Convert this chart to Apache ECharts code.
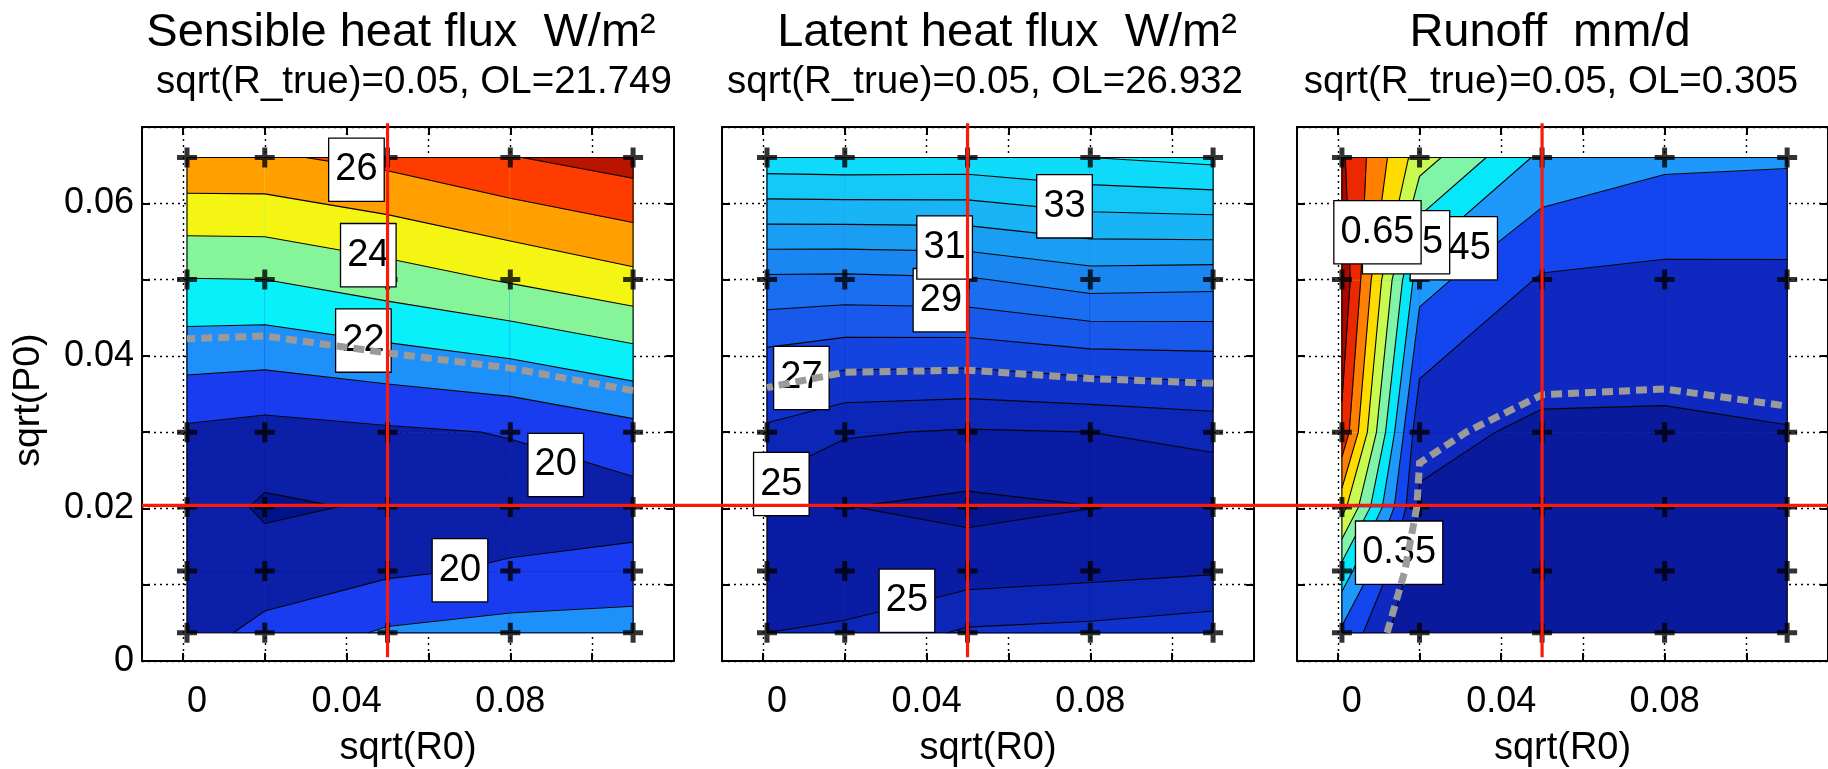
<!DOCTYPE html>
<html><head><meta charset="utf-8">
<script src="https://cdn.jsdelivr.net/npm/echarts@6/dist/echarts.min.js"></script>
<style>html,body{margin:0;padding:0;background:#fff}#c{width:1828px;height:769px}</style>
</head><body><div id="c"></div>
<script>
// ================= DATA =================
const xGrid = [0.001, 0.02, 0.05, 0.08, 0.11];              // sqrt(R0) sample points
const yGrid = [0.0037, 0.0118, 0.0202, 0.03, 0.05, 0.066];  // sqrt(P0) sample points
const xTickValues = [0, 0.02, 0.04, 0.06, 0.08, 0.10];
const xLabelValues = [0, 0.04, 0.08];
const yLabelValues = [0, 0.02, 0.04, 0.06];
const titles = ['Sensible heat flux  W/m\u00b2', 'Latent heat flux  W/m\u00b2', 'Runoff  mm/d'];
const subtitles = ['sqrt(R_true)=0.05, OL=21.749', 'sqrt(R_true)=0.05, OL=26.932', 'sqrt(R_true)=0.05, OL=0.305'];
const olValues = [21.749, 26.932, 0.305];
const rTrue = 0.05;
const pTrue = 0.0204;
const xName = 'sqrt(R0)';
const yName = 'sqrt(P0)';

// grid values: rows follow yGrid (bottom -> top), columns follow xGrid
const sensible = [
  [19.54, 20.31, 21.13, 21.41, 21.48],
  [19.70, 19.43, 19.84, 20.13, 20.36],
  [19.60, 18.85, 19.10, 19.50, 19.56],
  [19.82, 19.62, 19.84, 20.05, 20.64],
  [22.97, 23.00, 23.52, 24.10, 24.71],
  [25.84, 25.85, 26.30, 26.95, 27.47]
];
const latent = [
  [25.00, 25.24, 26.15, 26.30, 26.60],
  [24.55, 24.05, 24.50, 24.70, 24.90],
  [24.50, 24.02, 23.76, 23.98, 24.20],
  [25.75, 25.10, 24.90, 25.00, 25.30],
  [29.80, 29.77, 29.90, 30.50, 30.40],
  [34.64, 34.70, 34.65, 35.00, 35.30]
];
const runoff = [
  [0.390, 0.244, 0.270, 0.275, 0.278],
  [0.480, 0.264, 0.275, 0.278, 0.280],
  [0.620, 0.2936, 0.285, 0.283, 0.285],
  [0.740, 0.313, 0.292, 0.292, 0.298],
  [0.790, 0.419, 0.345, 0.338, 0.339],
  [0.758, 0.574, 0.438, 0.410, 0.406]
];
const sensibleLevels = [19, 20, 21, 22, 23, 24, 25, 26, 27];
const latentLevels = [24, 25, 26, 27, 28, 29, 30, 31, 32, 33, 34, 35, 36];
const runoffLevels = [0.30, 0.35, 0.40, 0.45, 0.50, 0.55, 0.60, 0.65, 0.70, 0.75];

// contour label anchors [sqrt(R0), sqrt(P0), level]
const sensibleLabels = [[0.0424, 0.0644, 26], [0.0453, 0.0532, 24], [0.0441, 0.0420, 22], [0.0911, 0.0257, 20], [0.0677, 0.0119, 20]];
const latentLabels = [[0.0737, 0.0596, 33], [0.0435, 0.0473, 29], [0.0444, 0.0542, 31], [0.0094, 0.0371, 27], [0.0045, 0.0232, 25], [0.0352, 0.0079, 25]];
const runoffLabels = [[0.0284, 0.0541, 0.45], [0.0167, 0.0549, 0.55], [0.0097, 0.0562, 0.65], [0.0150, 0.0142, 0.35]];

// ================= STYLE =================
const FONT = '"Liberation Sans", Arial, Helvetica, sans-serif';
const sensibleColors = ['#00128c', '#0c1fa8', '#1a3cf0', '#1e90fa', '#08f0fa', '#86f59a', '#f5f514', '#ffa000', '#ff3c00', '#b81400'];
const latentColors = ['#061490', '#0a1ca4', '#0c26b8', '#1032cc', '#1444e0', '#1858ea', '#1a6ef0', '#1a86f2', '#1a9ef4', '#18b4f6', '#14c8f8', '#0edcfa', '#0aeafc', '#30f8ff'];
const runoffColors = ['#0a1a9c', '#0e28c0', '#1446f0', '#1e98fa', '#06e8fa', '#80f5a8', '#c8fa50', '#ffdc00', '#ff8000', '#ec2800', '#aa0800'];
const gridLeft = [142, 722, 1297];
const gridWidth = 532, gridTop = 127, gridHeight = 534;
const titleCenters = [401, 1007, 1550];
const subtitleCenters = [414, 985, 1551];
const RED = '#fa1a0a';

const panels = [
  {vals: sensible, levels: sensibleLevels, colors: sensibleColors, labels: sensibleLabels, dec: 0},
  {vals: latent, levels: latentLevels, colors: latentColors, labels: latentLabels, dec: 0},
  {vals: runoff, levels: runoffLevels, colors: runoffColors, labels: runoffLabels, dec: 2}
];

// ================= CONTOUR HELPERS =================
function corners(vals, i, j) {
  return [[i, j], [i + 1, j], [i + 1, j + 1], [i, j + 1]].map(([a, b]) => ({x: xGrid[a], y: yGrid[b], v: vals[b][a], id: b * 100 + a}));
}
function crossPt(p, q, L) {
  if (p.id > q.id) { const t = p; p = q; q = t; }
  const t = (L - p.v) / (q.v - p.v);
  return [p.x + t * (q.x - p.x), p.y + t * (q.y - p.y)];
}
function cellFillPolys(c, L) {
  const ins = c.map(n => n.v >= L);
  const n = ins.filter(Boolean).length;
  if (n === 0) return [];
  if (n === 4) return [c.map(p => [p.x, p.y])];
  if (n === 2 && ins[0] === ins[2]) {
    const vc = (c[0].v + c[1].v + c[2].v + c[3].v) / 4;
    if (vc < L) {
      const out = [];
      for (let k = 0; k < 4; k++) if (ins[k]) {
        out.push([crossPt(c[(k + 3) % 4], c[k], L), [c[k].x, c[k].y], crossPt(c[k], c[(k + 1) % 4], L)]);
      }
      return out;
    }
  }
  const poly = [];
  for (let k = 0; k < 4; k++) {
    const kn = (k + 1) % 4;
    if (ins[k]) poly.push([c[k].x, c[k].y]);
    if (ins[k] !== ins[kn]) poly.push(crossPt(c[k], c[kn], L));
  }
  return [poly];
}
function cellSegments(c, L) {
  const ins = c.map(n => n.v >= L);
  const pts = {}; let count = 0;
  for (let k = 0; k < 4; k++) {
    const kn = (k + 1) % 4;
    if (ins[k] !== ins[kn]) { pts[k] = crossPt(c[k], c[kn], L); count++; }
  }
  if (count === 2) { const ks = Object.keys(pts); return [[pts[ks[0]], pts[ks[1]]]]; }
  if (count === 4) {
    const centerIn = (c[0].v + c[1].v + c[2].v + c[3].v) / 4 >= L;
    const segs = [];
    for (let k = 0; k < 4; k++) if (ins[k] !== centerIn) segs.push([pts[(k + 3) % 4], pts[k]]);
    return segs;
  }
  return [];
}
function chainSegments(segs) {
  const key = p => p[0].toFixed(8) + '_' + p[1].toFixed(8);
  const byKey = new Map();
  segs.forEach((s, idx) => s.forEach(p => { const k = key(p); if (!byKey.has(k)) byKey.set(k, []); byKey.get(k).push(idx); }));
  const used = new Array(segs.length).fill(false);
  const nextFrom = p => { for (const idx of (byKey.get(key(p)) || [])) if (!used[idx]) return idx; return -1; };
  const lines = [];
  for (let s0 = 0; s0 < segs.length; s0++) {
    if (used[s0]) continue;
    used[s0] = true;
    const line = [segs[s0][0], segs[s0][1]];
    for (;;) { const last = line[line.length - 1]; const idx = nextFrom(last); if (idx < 0) break; used[idx] = true; const s = segs[idx]; line.push(key(s[0]) === key(last) ? s[1] : s[0]); }
    for (;;) { const first = line[0]; const idx = nextFrom(first); if (idx < 0) break; used[idx] = true; const s = segs[idx]; line.unshift(key(s[0]) === key(first) ? s[1] : s[0]); }
    lines.push(line);
  }
  return lines;
}
function contourLines(vals, L) {
  const segs = [];
  for (let j = 0; j < yGrid.length - 1; j++) for (let i = 0; i < xGrid.length - 1; i++) segs.push(...cellSegments(corners(vals, i, j), L));
  return chainSegments(segs);
}

const cells = [];
for (let j = 0; j < yGrid.length - 1; j++) for (let i = 0; i < xGrid.length - 1; i++) cells.push([xGrid[i], yGrid[j], i, j]);
const crossPoints = [];
yGrid.forEach(y => xGrid.forEach(x => crossPoints.push([x, y])));

const fmt = v => Math.abs(v) < 1e-12 ? '0' : String(+v.toFixed(3));
const PLUS = 'path://M-1.25,-5L1.25,-5L1.25,-1.25L5,-1.25L5,1.25L1.25,1.25L1.25,5L-1.25,5L-1.25,1.25L-5,1.25L-5,-1.25L-1.25,-1.25Z';

// ================= OPTION =================
const grid = [], xAxis = [], yAxis = [], series = [];
const axisLine = {show: true, onZero: false, lineStyle: {color: '#000', width: 2}};
const tickStyle = {color: '#000', width: 2};
const dotted = {color: '#000', width: 1.4, type: [2, 4]};
const tickFont = {color: '#000', fontSize: 36, fontFamily: FONT};

panels.forEach((P, i) => {
  grid.push({left: gridLeft[i], top: gridTop, width: gridWidth, height: gridHeight, containLabel: false});
  xAxis.push({gridIndex: i, type: 'value', min: -0.01, max: 0.12, position: 'bottom', axisLine,
    axisTick: {show: true, inside: true, length: 8, lineStyle: tickStyle, customValues: xTickValues},
    axisLabel: Object.assign({show: true, customValues: xLabelValues, margin: 23,
      formatter: v => Math.abs(v) < 1e-12 ? '{z|0}' : fmt(v),
      rich: {z: Object.assign({padding: [0, 0, 0, 28]}, tickFont)}}, tickFont),
    splitLine: {show: true, lineStyle: dotted}});
  xAxis.push({gridIndex: i, type: 'value', min: -0.01, max: 0.12, position: 'top', axisLine,
    axisTick: {show: true, inside: true, length: 8, lineStyle: tickStyle, customValues: xTickValues},
    axisLabel: {show: false}, splitLine: {show: false}});
  yAxis.push({gridIndex: i, type: 'value', min: 0, max: 0.07, interval: 0.01, position: 'left', axisLine,
    axisTick: {show: true, inside: true, length: 8, lineStyle: tickStyle},
    axisLabel: Object.assign({show: i === 0, margin: 8, formatter: v => yLabelValues.some(t => Math.abs(t - v) < 1e-9) ? fmt(v) : ''}, tickFont),
    splitLine: {show: true, lineStyle: dotted}});
  yAxis.push({gridIndex: i, type: 'value', min: 0, max: 0.07, interval: 0.01, position: 'right', axisLine,
    axisTick: {show: true, inside: true, length: 8, lineStyle: tickStyle},
    axisLabel: {show: false}, splitLine: {show: false}});

  const xi = 2 * i, yi = 2 * i;
  // filled bands
  series.push({type: 'custom', coordinateSystem: 'cartesian2d', xAxisIndex: xi, yAxisIndex: yi, z: 1, silent: true, animation: false,
    data: cells,
    renderItem: (params, api) => {
      const ci = api.value(2), cj = api.value(3);
      const c = corners(P.vals, ci, cj);
      const vmin = Math.min(...c.map(n => n.v));
      const base = P.levels.filter(l => l <= vmin).length;
      const mk = (poly, col) => ({type: 'polygon', shape: {points: poly.map(p => api.coord(p))}, style: {fill: col, stroke: col, lineWidth: 0.8}});
      const children = [mk(c.map(n => [n.x, n.y]), P.colors[base])];
      for (let k = base; k < P.levels.length; k++) {
        const polys = cellFillPolys(c, P.levels[k]);
        if (!polys.length) break;
        polys.forEach(pl => children.push(mk(pl, P.colors[k + 1])));
      }
      return {type: 'group', children};
    }});
  // contour lines + outline of sampled area
  const lines = [];
  P.levels.forEach(L => lines.push(...contourLines(P.vals, L)));
  const x0 = xGrid[0], x1 = xGrid[xGrid.length - 1], y0 = yGrid[0], y1 = yGrid[yGrid.length - 1];
  lines.push([[x0, y0], [x1, y0], [x1, y1], [x0, y1], [x0, y0]]);
  series.push({type: 'custom', coordinateSystem: 'cartesian2d', xAxisIndex: xi, yAxisIndex: yi, z: 2, silent: true, animation: false,
    data: lines.map((l, k) => [l[0][0], l[0][1], k]),
    renderItem: (params, api) => ({type: 'polyline', shape: {points: lines[params.dataIndex].map(p => api.coord(p))}, style: {stroke: '#050505', lineWidth: 1.1, fill: 'none'}})});
  // sample crosses
  series.push({type: 'scatter', xAxisIndex: xi, yAxisIndex: yi, z: 3, silent: true, animation: false,
    symbol: PLUS, symbolSize: 20, itemStyle: {color: '#000'}, data: crossPoints});
  // contour labels
  series.push({type: 'custom', coordinateSystem: 'cartesian2d', xAxisIndex: xi, yAxisIndex: yi, z: 4, silent: true, animation: false,
    data: P.labels,
    renderItem: (params, api) => {
      const p = api.coord([api.value(0), api.value(1)]);
      return {type: 'text', x: p[0], y: p[1], style: {text: api.value(2).toFixed(P.dec), fontSize: 38, fontFamily: FONT, fill: '#000',
        align: 'center', verticalAlign: 'middle', backgroundColor: '#fff', borderColor: '#000', borderWidth: 1.3, padding: [13, 6, 11, 6]}};
    }});
  // OL contour (dashed grey)
  const olLines = contourLines(P.vals, olValues[i]);
  series.push({type: 'custom', coordinateSystem: 'cartesian2d', xAxisIndex: xi, yAxisIndex: yi, z: 5, silent: true, animation: false,
    data: olLines.map((l, k) => [l[0][0], l[0][1], k]),
    renderItem: (params, api) => ({type: 'polyline', shape: {points: olLines[params.dataIndex].map(p => api.coord(p))},
      style: {stroke: '#9a9a9a', lineWidth: 7, fill: 'none', lineDash: [11, 6]}})});
  // true R line
  series.push({type: 'custom', coordinateSystem: 'cartesian2d', xAxisIndex: xi, yAxisIndex: yi, z: 6, silent: true, animation: false,
    data: [[rTrue, 0]],
    renderItem: (params, api) => {
      const a = api.coord([rTrue, 0.0005]), b = api.coord([rTrue, 0.0705]);
      return {type: 'line', shape: {x1: a[0], y1: a[1], x2: b[0], y2: b[1]}, style: {stroke: RED, lineWidth: 3.2}};
    }});
});

const chart = echarts.init(document.getElementById('c'), null, {renderer: 'canvas'});
chart.setOption({animation: false, backgroundColor: '#fff', grid, xAxis, yAxis, series});

// texts and the true-P line, placed through the axes' scales
const graphic = [];
const txt = (x, y, text, size, extra) => Object.assign({type: 'text', x, y, z: 50,
  style: {text, fill: '#000', font: size + 'px ' + FONT, align: 'center', verticalAlign: 'middle', textAlign: 'center', textVerticalAlign: 'middle'}}, extra || {});
panels.forEach((P, i) => {
  graphic.push(txt(titleCenters[i], 33.5, titles[i], 47));
  graphic.push(txt(subtitleCenters[i], 82.5, subtitles[i], 38.5));
  const nx = chart.convertToPixel({xAxisIndex: 2 * i, yAxisIndex: 2 * i}, [0.055, 0])[0];
  graphic.push(txt(nx, 749, xName, 38));
});
const mid = chart.convertToPixel({xAxisIndex: 0, yAxisIndex: 0}, [-0.01, 0.0342]);
graphic.push(txt(29, mid[1], yName, 37.5, {rotation: Math.PI / 2}));
const a = chart.convertToPixel({xAxisIndex: 0, yAxisIndex: 0}, [-0.01, pTrue]);
graphic.push({type: 'line', z: 60, shape: {x1: a[0], y1: a[1], x2: 1828, y2: a[1]}, style: {stroke: RED, lineWidth: 3.2}});
chart.setOption({graphic});
</script></body></html>
